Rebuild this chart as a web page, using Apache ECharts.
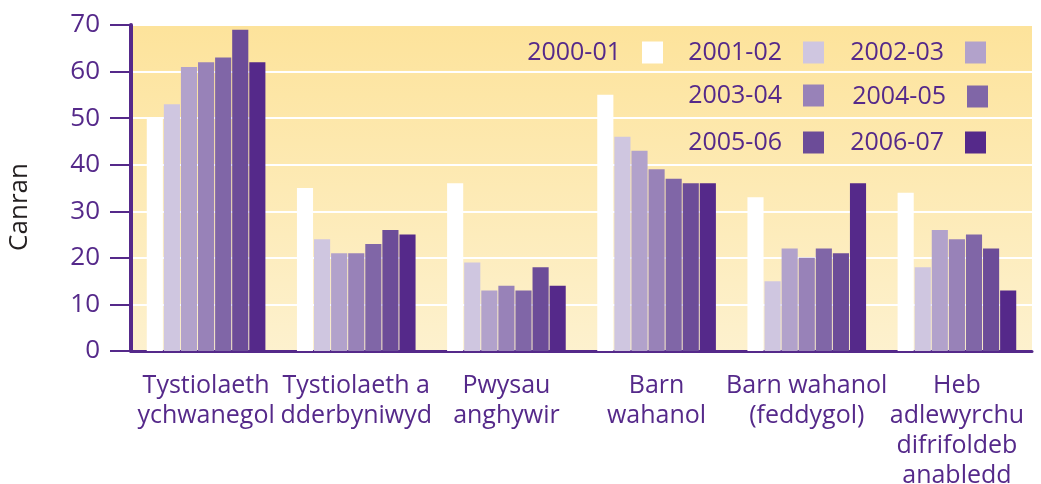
<!DOCTYPE html>
<html>
<head>
<meta charset="utf-8">
<script src="https://cdn.jsdelivr.net/npm/echarts@6/dist/echarts.min.js"></script>
<style>
  html, body { margin: 0; padding: 0; background: #fff; }
  #main { width: 1041px; height: 484px; }
</style>
</head>
<body>
<div id="main"></div>
<script>
// categories (x axis)
var categories = ['Tystiolaeth\nychwanegol', 'Tystiolaeth a\ndderbyniwyd', 'Pwysau\nanghywir',
    'Barn\nwahanol', 'Barn wahanol\n(feddygol)', 'Heb\nadlewyrchu\ndifrifoldeb\nanabledd'];
// one array per year
var years = ['2000-01', '2001-02', '2002-03', '2003-04', '2004-05', '2005-06', '2006-07'];
var v2000 = [50, 35, 36, 55, 33, 34];
var v2001 = [53, 24, 19, 46, 15, 18];
var v2002 = [61, 21, 13, 43, 22, 26];
var v2003 = [62, 21, 14, 39, 20, 24];
var v2004 = [63, 23, 13, 37, 22, 25];
var v2005 = [69, 26, 18, 36, 21, 22];
var v2006 = [62, 25, 14, 36, 36, 13];
var yTicks = [0, 10, 20, 30, 40, 50, 60, 70];

var purple = '#55298a';
var colors = ['#ffffff', '#cfc6e0', '#b2a2cb', '#9882b8', '#8066a7', '#6c4c98', '#55298a'];
var values = [v2000, v2001, v2002, v2003, v2004, v2005, v2006];
var font = '"Open Sans", "Noto Sans", sans-serif';

var series = [];
for (var i = 0; i < years.length; i++) {
    series.push({
        name: years[i],
        type: 'bar',
        data: values[i],
        barGap: '6%',
        barCategoryGap: '21%',
        itemStyle: {color: colors[i]}
    });
}

// legend: text on the left, square on the right, 3 columns
var legendPos = [
    {right: 378, top: 40}, {right: 217, top: 40}, {right: 55, top: 40},
    {right: 217, top: 83}, {right: 53, top: 84},
    {right: 217, top: 130}, {right: 55, top: 130}
];
var legends = [];
for (var j = 0; j < years.length; j++) {
    legends.push({
        data: [years[j]],
        right: legendPos[j].right,
        top: legendPos[j].top,
        align: 'right',
        orient: 'horizontal',
        itemWidth: 21,
        itemHeight: 22,
        icon: 'rect',
        selectedMode: false,
        padding: 0,
        textStyle: {
            color: purple,
            fontSize: 25,
            fontFamily: font,
            lineHeight: 22,
            padding: [0, 16, 0, 0]
        }
    });
}

var myChart = echarts.init(document.getElementById('main'));
var option = {
    backgroundColor: '#ffffff',
    animation: false,
    color: colors,
    legend: legends,
    grid: {
        left: 131,
        right: 9,
        top: 25,
        bottom: 133,
        outerBoundsMode: 'none',
        containLabel: false,
        show: true,
        borderWidth: 0,
        backgroundColor: new echarts.graphic.LinearGradient(0, 0, 0, 1, [
            {offset: 0, color: '#fde39b'},
            {offset: 1, color: '#fdf1ce'}
        ])
    },
    xAxis: {
        type: 'category',
        data: categories,
        axisLine: {lineStyle: {color: purple, width: 3}},
        axisTick: {show: false},
        axisLabel: {
            color: purple,
            fontSize: 25,
            fontFamily: font,
            lineHeight: 30,
            margin: 20,
            interval: 0
        }
    },
    yAxis: {
        type: 'value',
        min: yTicks[0],
        max: yTicks[yTicks.length - 1],
        interval: 10,
        axisLine: {show: true, lineStyle: {color: purple, width: 4}},
        axisTick: {show: true, length: 21, lineStyle: {color: purple, width: 2}},
        axisLabel: {
            color: purple,
            fontSize: 26,
            fontFamily: font,
            margin: 31
        },
        splitLine: {lineStyle: {color: '#ffffff', width: 2}}
    },
    graphic: [{
        type: 'text',
        x: 7,
        y: 207,
        rotation: Math.PI / 2,
        style: {
            text: 'Canran',
            fill: '#231f20',
            fontSize: 26,
            fontFamily: font,
            textAlign: 'center',
            textVerticalAlign: 'top'
        }
    }],
    series: series
};
myChart.setOption(option);
</script>
</body>
</html>
